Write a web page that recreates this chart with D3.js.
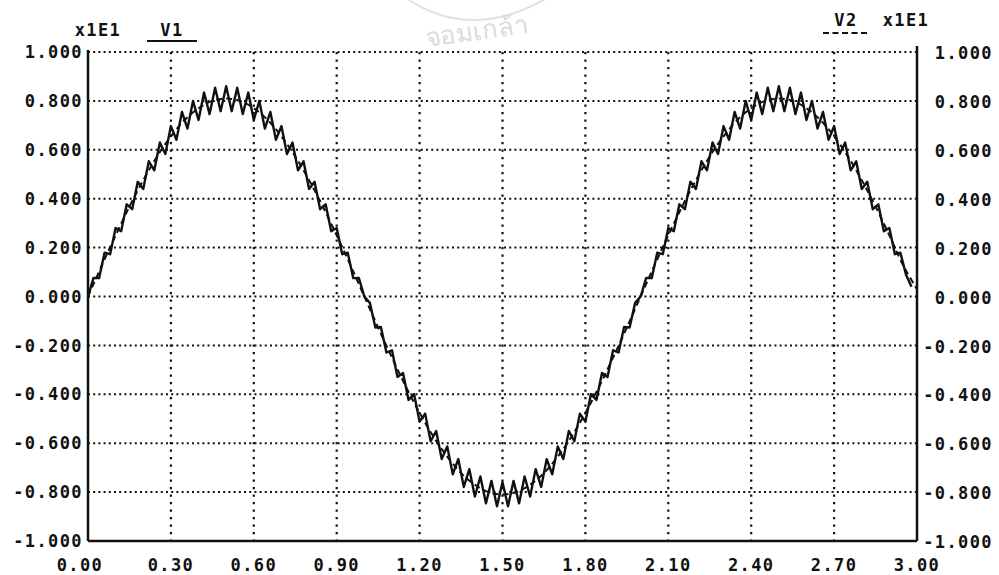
<!DOCTYPE html>
<html>
<head>
<meta charset="utf-8">
<script src="https://cdn.jsdelivr.net/npm/d3@7"></script>
<style>
  html, body { margin: 0; padding: 0; background: #fff; }
  svg text { font-family: "DejaVu Sans Mono", monospace; font-weight: bold; fill: #111; }
</style>
</head>
<body>
<div id="chart"></div>
<script>
// time axis
const xTicks = [0, 0.3, 0.6, 0.9, 1.2, 1.5, 1.8, 2.1, 2.4, 2.7, 3.0];
const xTickLabels = ['0.00', '0.30', '0.60', '0.90', '1.20', '1.50', '1.80', '2.10', '2.40', '2.70', '3.00'];
const yTicks = [1.0, 0.8, 0.6, 0.4, 0.2, 0, -0.2, -0.4, -0.6, -0.8, -1.0];
const yTickLabels = ['1.000', '0.800', '0.600', '0.400', '0.200', '0.000', '-0.200', '-0.400', '-0.600', '-0.800', '-1.000'];

// V1 sampled every 0.02 s (solid, with ripple)
const v1Step = 0.02;
const v1 = [
  0.000, 0.076, 0.075, 0.179, 0.173, 0.280, 0.267, 0.377, 0.357, 0.469, 0.440, 0.553, 0.516,
  0.630, 0.583, 0.697, 0.641, 0.755, 0.687, 0.800, 0.722, 0.834, 0.746, 0.854, 0.758, 0.860,
  0.758, 0.854, 0.746, 0.834, 0.722, 0.800, 0.687, 0.755, 0.641, 0.697, 0.583, 0.630, 0.516,
  0.553, 0.440, 0.469, 0.357, 0.377, 0.267, 0.280, 0.173, 0.179, 0.075, 0.076, 0.000,
  -0.026, -0.127, -0.125, -0.229, -0.220, -0.329, -0.313, -0.423, -0.399, -0.512, -0.479, -0.592,
  -0.550, -0.665, -0.613, -0.727, -0.665, -0.779, -0.706, -0.818, -0.736, -0.846, -0.754, -0.858, -0.760,
  -0.858, -0.754, -0.846, -0.736, -0.818, -0.706, -0.779, -0.665, -0.727, -0.613, -0.665, -0.550,
  -0.592, -0.479, -0.512, -0.399, -0.423, -0.313, -0.329, -0.220, -0.229, -0.125, -0.127, -0.026, 0.000,
  0.076, 0.075, 0.179, 0.173, 0.280, 0.267, 0.377, 0.357, 0.469, 0.440, 0.553, 0.516,
  0.630, 0.583, 0.697, 0.641, 0.755, 0.687, 0.800, 0.722, 0.834, 0.746, 0.854, 0.758, 0.860,
  0.758, 0.854, 0.746, 0.834, 0.722, 0.800, 0.687, 0.755, 0.641, 0.697, 0.583, 0.630, 0.516,
  0.553, 0.440, 0.469, 0.357, 0.377, 0.267, 0.280, 0.173, 0.179, 0.090, 0.040
];

// V2 sampled every 0.05 s (dashed, smooth)
const v2Step = 0.05;
const v2 = [
  0.000, 0.127, 0.250, 0.368, 0.476, 0.573, 0.655, 0.722, 0.770, 0.800, 0.810,
  0.800, 0.770, 0.722, 0.655, 0.573, 0.476, 0.368, 0.250, 0.127, 0.000,
  -0.127, -0.250, -0.368, -0.476, -0.573, -0.655, -0.722, -0.770, -0.800, -0.810,
  -0.800, -0.770, -0.722, -0.655, -0.573, -0.476, -0.368, -0.250, -0.127, 0.000,
  0.127, 0.250, 0.368, 0.476, 0.573, 0.655, 0.722, 0.770, 0.800, 0.810,
  0.800, 0.770, 0.722, 0.655, 0.573, 0.476, 0.368, 0.250, 0.127, 0.030
];

const width = 999, height = 575;
const plotLeft = 88, plotRight = 917, plotTop = 52, plotBottom = 541;

const svg = d3.select('#chart').append('svg')
  .attr('width', width)
  .attr('height', height);

// faint watermark from the scan
svg.append('path')
  .attr('d', 'M 395 -10 Q 470 50 560 -10')
  .attr('fill', 'none')
  .attr('stroke', '#e2e2e2')
  .attr('stroke-width', 2);
svg.append('text')
  .attr('x', 478).attr('y', 40)
  .attr('text-anchor', 'middle')
  .attr('transform', 'rotate(-8,478,40)')
  .style('font-family', '"Noto Sans", sans-serif')
  .style('font-size', '26px')
  .style('font-weight', 'normal')
  .style('fill', '#dcdcdc')
  .text('จอมเกล้า');

const x = d3.scaleLinear().domain([0, 3]).range([plotLeft, plotRight]);
const y = d3.scaleLinear().domain([-1, 1]).range([plotBottom, plotTop]);

// grid
svg.append('g')
  .selectAll('line')
  .data(yTicks.filter(d => d > -1))
  .join('line')
  .attr('x1', plotLeft).attr('x2', plotRight)
  .attr('y1', d => y(d)).attr('y2', d => y(d))
  .attr('stroke', '#111')
  .attr('stroke-width', 2)
  .attr('stroke-dasharray', '2,3.2');

svg.append('g')
  .selectAll('line')
  .data(xTicks.filter(d => d > 0 && d < 3))
  .join('line')
  .attr('x1', d => x(d)).attr('x2', d => x(d))
  .attr('y1', plotTop).attr('y2', plotBottom)
  .attr('stroke', '#111')
  .attr('stroke-width', 2.2)
  .attr('stroke-dasharray', '2.2,5.3');

// frame
svg.append('line').attr('x1', plotLeft).attr('x2', plotLeft).attr('y1', plotTop - 2).attr('y2', plotBottom)
  .attr('stroke', '#111').attr('stroke-width', 2.5);
svg.append('line').attr('x1', plotRight).attr('x2', plotRight).attr('y1', plotTop - 6).attr('y2', plotBottom)
  .attr('stroke', '#111').attr('stroke-width', 2.5);
svg.append('line').attr('x1', plotLeft).attr('x2', plotRight).attr('y1', plotBottom).attr('y2', plotBottom)
  .attr('stroke', '#111').attr('stroke-width', 2.5);

// axes labels
const labelStyle = sel => sel
  .style('font-size', '17px')
  .style('letter-spacing', '1.4px');

svg.append('g')
  .selectAll('text')
  .data(yTicks)
  .join('text')
  .attr('x', plotLeft - 5)
  .attr('y', d => y(d))
  .attr('dy', '0.36em')
  .attr('text-anchor', 'end')
  .call(labelStyle)
  .text((d, i) => yTickLabels[i]);

svg.append('g')
  .selectAll('text')
  .data(yTicks)
  .join('text')
  .attr('x', 993)
  .attr('y', d => y(d) + 1)
  .attr('dy', '0.36em')
  .attr('text-anchor', 'end')
  .call(labelStyle)
  .text((d, i) => yTickLabels[i]);

svg.append('g')
  .selectAll('text')
  .data(xTicks)
  .join('text')
  .attr('x', d => x(d) + (d === 0 ? -8 : 0))
  .attr('y', 565)
  .attr('dy', '0.36em')
  .attr('text-anchor', 'middle')
  .call(labelStyle)
  .text((d, i) => xTickLabels[i]);

// header labels
svg.append('text').attr('x', 98).attr('y', 30).attr('dy', '0.36em')
  .attr('text-anchor', 'middle').call(labelStyle).text('x1E1');
svg.append('text').attr('x', 172).attr('y', 30).attr('dy', '0.36em')
  .attr('text-anchor', 'middle').call(labelStyle).text('V1');
svg.append('line').attr('x1', 147).attr('x2', 197).attr('y1', 41).attr('y2', 41)
  .attr('stroke', '#111').attr('stroke-width', 2);

svg.append('text').attr('x', 846).attr('y', 20).attr('dy', '0.36em')
  .attr('text-anchor', 'middle').call(labelStyle).text('V2');
svg.append('line').attr('x1', 823).attr('x2', 869).attr('y1', 33).attr('y2', 33)
  .attr('stroke', '#111').attr('stroke-width', 2).attr('stroke-dasharray', '6,3.5');
svg.append('text').attr('x', 906).attr('y', 20).attr('dy', '0.36em')
  .attr('text-anchor', 'middle').call(labelStyle).text('x1E1');

// series
const line = step => d3.line()
  .x((d, i) => x(i * step))
  .y(d => y(d));

svg.append('path')
  .datum(v2)
  .attr('fill', 'none')
  .attr('stroke', '#111')
  .attr('stroke-width', 2)
  .attr('stroke-dasharray', '6,4')
  .attr('d', line(v2Step).curve(d3.curveCatmullRom));

svg.append('path')
  .datum(v1)
  .attr('fill', 'none')
  .attr('stroke', '#111')
  .attr('stroke-width', 2.4)
  .attr('stroke-linejoin', 'round')
  .attr('d', line(v1Step));
</script>
</body>
</html>
